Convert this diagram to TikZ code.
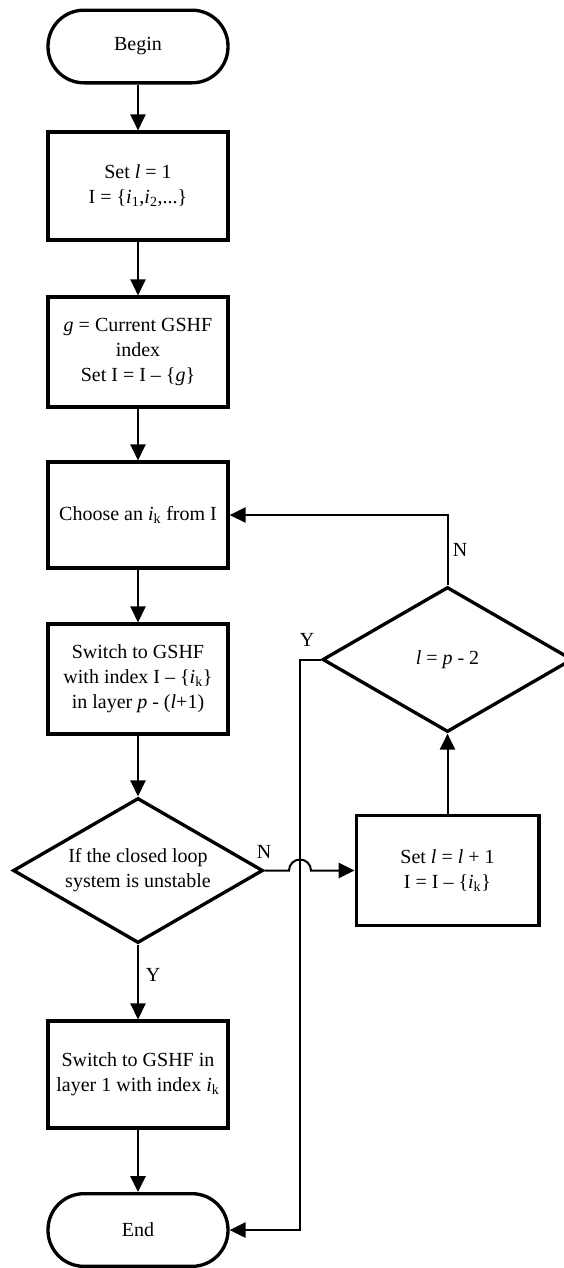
\documentclass[tikz,border=0pt]{standalone}
\usepackage{fontspec}
\setmainfont{Liberation Serif}
\usetikzlibrary{shapes.geometric,arrows.meta}
\newcommand\fs{\fontsize{15}{18.75}\selectfont}
\begin{document}
\begin{tikzpicture}[x=0.75pt,y=-0.75pt,
  box/.style={draw,line width=2.5pt,minimum width=135pt,align=center,inner sep=0pt,font=\fs},
  term/.style={draw,line width=2.5pt,minimum width=135pt,minimum height=54.5pt,rounded corners=27pt,font=\fs},
  dec/.style={draw,diamond,line width=2.5pt,minimum width=187.5pt,minimum height=108.75pt,shape aspect=1.72,inner sep=0pt,align=center,font=\fs},
  conn/.style={line width=1.5pt,-{Triangle[length=12pt,width=11.5pt]}},
  lab/.style={font=\fs,inner sep=0pt}]
\useasboundingbox (0,0) rectangle (564,1268);
\node[term] (begin) at (138,46.5) {Begin};
\node[box,minimum height=81pt] (b1) at (138,186) {Set \textit{l} = 1\\I = \{\textit{i}\textsubscript{1},\textit{i}\textsubscript{2},...\}};
\node[box,minimum height=82.5pt] (b2) at (138,352) {\textit{g} = Current GSHF\\index\\Set I = I -- \{\textit{g}\}};
\node[box,minimum height=79.5pt] (b3) at (138,515) {Choose an \textit{i}\textsubscript{k} from I};
\node[box,minimum height=82.5pt] (b4) at (138,679) {Switch to GSHF\\with index I -- \{\textit{i}\textsubscript{k}\}\\in layer \textit{p} - (\textit{l}+1)};
\node[dec] (d1) at (138,870.5) {If the closed loop\\system is unstable};
\node[box,minimum height=80.25pt] (b5) at (138,1074.5) {Switch to GSHF in\\layer 1 with index \textit{i}\textsubscript{k}};
\node[term] (end) at (138,1230) {End};
\node[box,minimum width=137pt,minimum height=82.5pt] (s) at (447.5,870.5) {Set \textit{l} = \textit{l} + 1\\I = I -- \{\textit{i}\textsubscript{k}\}};
\node[dec] (d2) at (447.5,659.5) {\textit{l} = \textit{p} - 2};

\draw[conn] (begin.south) -- (b1.north);
\draw[conn] (b1.south) -- (b2.north);
\draw[conn] (b2.south) -- (b3.north);
\draw[conn] (b3.south) -- (b4.north);
\draw[conn] (b4.south) -- (d1.north);
\draw[conn] (d1.south) -- (b5.north);
\draw[conn] (b5.south) -- (end.north);
\draw[conn] (d1.east) -- (289,870.5) arc[start angle=180,end angle=360,radius=11] -- (s.west);
\draw[conn] (s.north) -- (d2.south);
\draw[conn] (d2.north) |- (b3.east);
\coordinate (yc) at (300,659.5);
\draw[conn] (d2.west) -- (yc) |- (end.east);

\node[lab] (ny) at (153,975) {Y};
\node[lab] (nn) at (264,852) {N};
\node[lab] (ln) at (460,550) {N};
\node[lab] (ly) at (307,640) {Y};
\end{tikzpicture}
\end{document}
